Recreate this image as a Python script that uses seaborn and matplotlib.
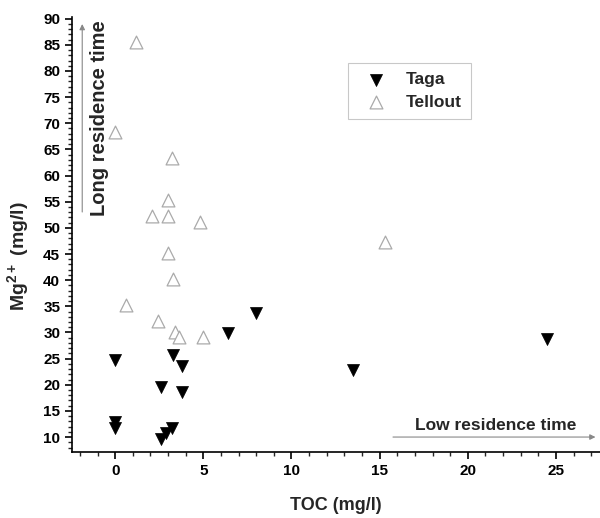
import numpy as np
import pandas as pd
import matplotlib
matplotlib.use("Agg")
import matplotlib.pyplot as plt
from matplotlib.ticker import MultipleLocator
import seaborn as sns

# data
taga_toc = [0.0, 0.0, 0.0, 2.6, 3.3, 3.8, 3.8, 2.6, 2.9, 3.2, 6.4, 8.0, 13.5, 24.5]
taga_mg = [24.7, 12.9, 11.8, 19.6, 25.7, 23.6, 18.7, 9.6, 10.7, 11.7, 29.8, 33.8, 22.8, 28.7]

tellout_toc = [1.2, 0.0, 3.2, 3.0, 2.1, 3.0, 4.8, 3.0, 3.3, 0.6, 2.4, 3.4, 3.6, 5.0, 15.3]
tellout_mg = [85.5, 68.3, 63.4, 55.3, 52.3, 52.3, 51.2, 45.2, 40.2, 35.2, 32.1, 30.1, 29.1, 29.1, 47.2]

df = pd.DataFrame({
    "TOC": taga_toc + tellout_toc,
    "Mg": taga_mg + tellout_mg,
    "site": ["Taga"] * len(taga_toc) + ["Tellout"] * len(tellout_toc),
})

sns.set_style("ticks")
plt.rcParams['font.family'] = ['Liberation Sans', 'DejaVu Sans']
plt.rcParams['font.weight'] = 'bold'
plt.rcParams['mathtext.fontset'] = 'custom'
plt.rcParams['mathtext.bf'] = 'Liberation Sans:bold'
plt.rcParams['mathtext.rm'] = 'Liberation Sans:bold'

fig = plt.figure(figsize=(6, 5.18), dpi=100)
ax = fig.add_axes([0.12, 0.127, 0.88, 0.84])

sns.scatterplot(data=df[df.site == "Taga"], x="TOC", y="Mg", marker="v", s=75,
                color="black", edgecolor="black", linewidth=0.5, label="Taga", ax=ax)
sns.scatterplot(data=df[df.site == "Tellout"], x="TOC", y="Mg", marker="^", s=85,
                facecolor="white", edgecolor="#aaaaaa", linewidth=0.9, label="Tellout", ax=ax)

ax.xaxis.set_major_locator(MultipleLocator(5))
ax.xaxis.set_minor_locator(MultipleLocator(1))
ax.yaxis.set_major_locator(MultipleLocator(5))
ax.yaxis.set_minor_locator(MultipleLocator(1))
ax.set_xticks(np.arange(0, 30, 5))
ax.set_xlim(-2.45, 27.5)
ax.set_ylim(7.1, 90.3)
ax.tick_params(axis="both", which="major", direction="out", length=5, width=1.2,
               labelsize=11, colors="black")
ax.tick_params(axis="both", which="minor", direction="out", length=3, width=1)
for lab in ax.get_xticklabels() + ax.get_yticklabels():
    lab.set_fontweight("bold")
sns.despine(ax=ax)
for sp in ["left", "bottom"]:
    ax.spines[sp].set_linewidth(1.2)
    ax.spines[sp].set_color("black")

ax.set_xlabel("TOC (mg/l)", fontsize=13, fontweight="bold", labelpad=14)
ax.set_ylabel(r"Mg$^{\mathbf{2+}}$ (mg/l)", fontsize=14, fontweight="bold")
ax.yaxis.set_label_coords(-0.076, 0.45)

# residence time annotations
ax.annotate("", xy=(-1.87, 89.5), xytext=(-1.87, 52.5),
            arrowprops=dict(arrowstyle="-|>", color="#888888", lw=0.8,
                            mutation_scale=8, facecolor="black"))
ax.text(-0.9, 71, "Long residence time", rotation=90, ha="center", va="center",
        fontsize=14.5, fontweight="bold")
ax.annotate("", xy=(27.4, 10), xytext=(15.6, 10),
            arrowprops=dict(arrowstyle="-|>", color="#888888", lw=0.8,
                            mutation_scale=8, facecolor="black"))
ax.text(21.6, 12.3, "Low residence time", ha="center", va="center",
        fontsize=12.5, fontweight="bold")

leg = ax.legend(loc="upper left", bbox_to_anchor=(0.522, 0.895), frameon=True,
                fancybox=False, edgecolor="#bbbbbb", fontsize=12.5, handletextpad=0.6,
                borderpad=0.55, borderaxespad=0, labelspacing=0.4, handlelength=2.2)
leg.get_frame().set_linewidth(0.8)
for t in leg.get_texts():
    t.set_fontweight("bold")

fig.savefig("out.png", dpi=100)
